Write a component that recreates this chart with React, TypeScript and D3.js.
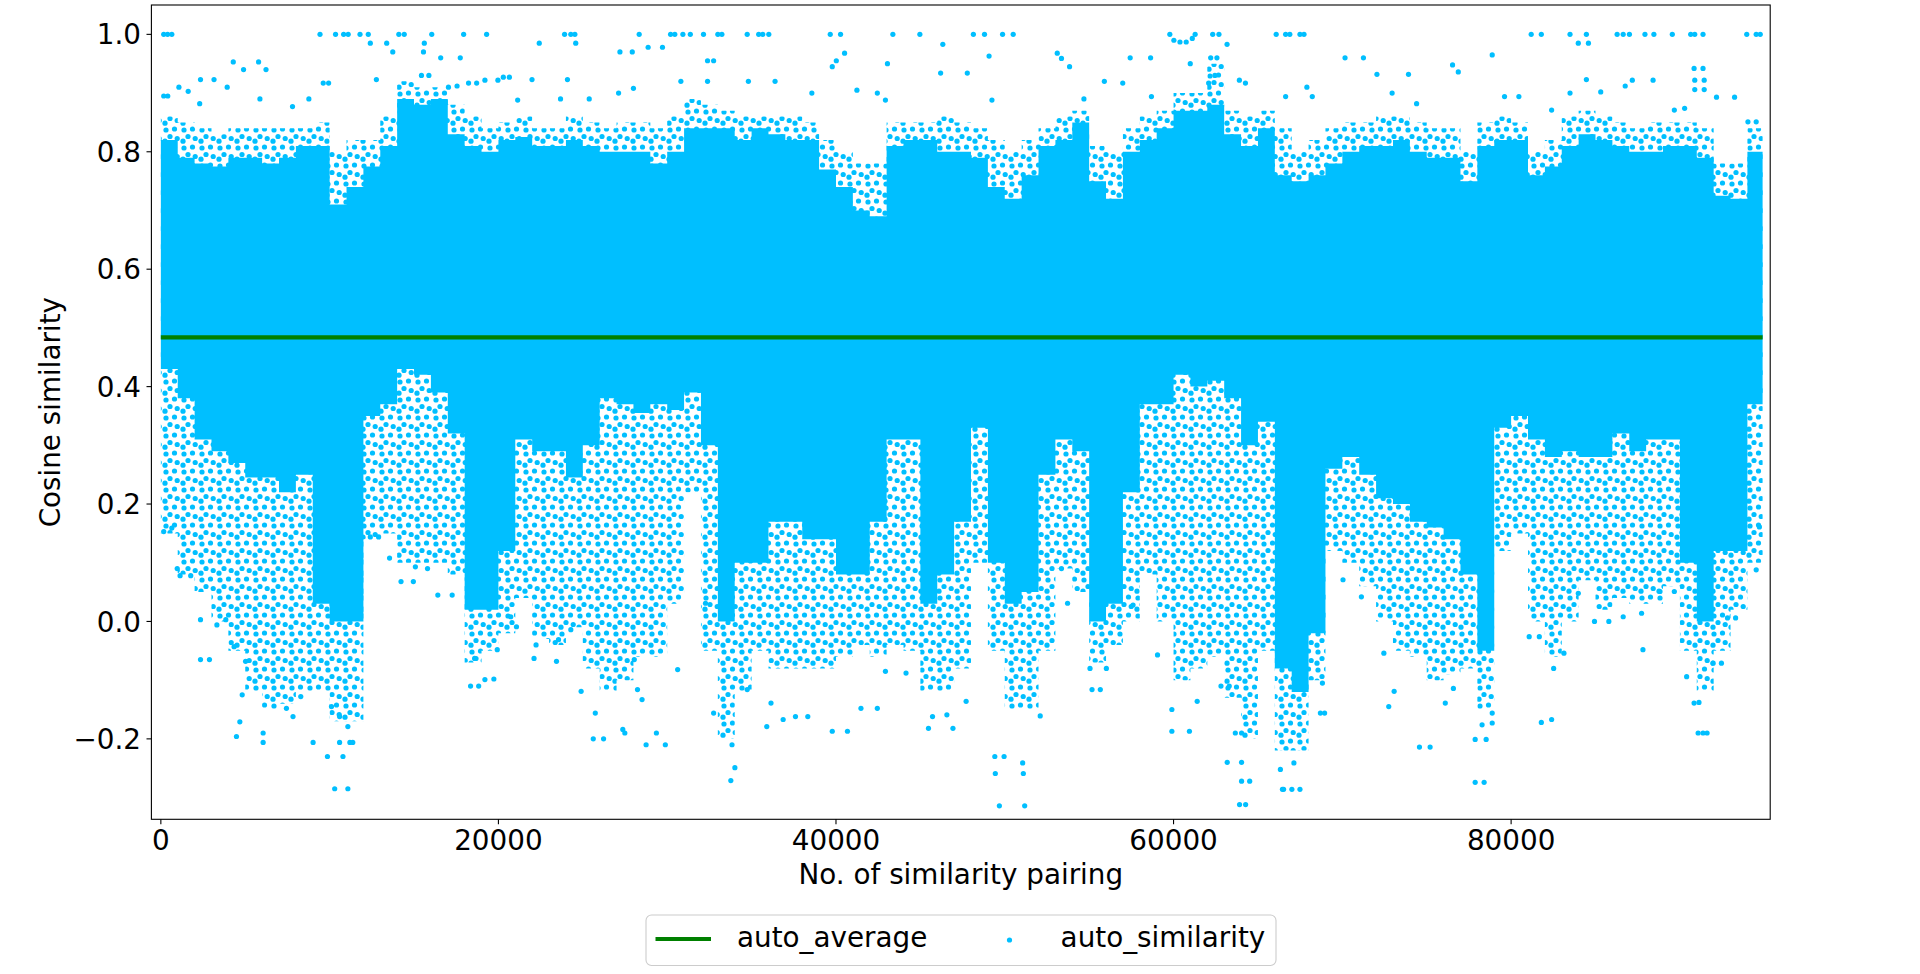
import React from 'react';
import * as d3 from 'd3';

// ---- data ----
const BIN_SIZE = 1000; // x-width of each envelope bin (pairing index)
const N_PAIRS = 94900;
const AVERAGE = 0.484;
const X_TICKS = [0, 20000, 40000, 60000, 80000];
const Y_TICKS = [-0.2, 0.0, 0.2, 0.4, 0.6, 0.8, 1.0];

// upper edge of the solid (fully covered) band of points per bin
const coreHigh = [
  0.82, 0.79, 0.78, 0.775, 0.79, 0.79, 0.78, 0.79, 0.81, 0.81,
  0.71, 0.74, 0.775, 0.81, 0.89, 0.88, 0.89, 0.83, 0.81, 0.8,
  0.82, 0.825, 0.81, 0.81, 0.82, 0.81, 0.8, 0.8, 0.8, 0.78,
  0.8, 0.84, 0.84, 0.84, 0.82, 0.84, 0.83, 0.82, 0.82, 0.77,
  0.74, 0.7, 0.69, 0.81, 0.82, 0.82, 0.8, 0.8, 0.79, 0.74,
  0.72, 0.76, 0.81, 0.82, 0.85, 0.75, 0.72, 0.8, 0.82, 0.84,
  0.87, 0.87, 0.88, 0.83, 0.81, 0.84, 0.76, 0.75, 0.76, 0.78,
  0.8, 0.81, 0.81, 0.82, 0.8, 0.79, 0.79, 0.75, 0.81, 0.82,
  0.82, 0.76, 0.775, 0.81, 0.83, 0.82, 0.81, 0.8, 0.8, 0.81,
  0.81, 0.79, 0.725, 0.72, 0.8,
];
// lower edge of the solid band per bin
const coreLow = [
  0.43, 0.38, 0.31, 0.29, 0.27, 0.245, 0.245, 0.22, 0.25, 0.03,
  0.0, 0.0, 0.35, 0.37, 0.43, 0.42, 0.39, 0.32, 0.02, 0.02,
  0.12, 0.31, 0.29, 0.29, 0.245, 0.3, 0.38, 0.37, 0.355, 0.37,
  0.36, 0.39, 0.3, 0.0, 0.1, 0.1, 0.17, 0.17, 0.14, 0.14,
  0.08, 0.08, 0.17, 0.31, 0.31, 0.03, 0.08, 0.17, 0.33, 0.1,
  0.03, 0.05, 0.25, 0.31, 0.29, 0.0, 0.03, 0.22, 0.37, 0.37,
  0.42, 0.4, 0.41, 0.38, 0.3, 0.34, -0.08, -0.12, -0.02, 0.26,
  0.28, 0.25, 0.21, 0.2, 0.17, 0.16, 0.14, 0.08, -0.05, 0.33,
  0.35, 0.31, 0.28, 0.29, 0.28, 0.28, 0.32, 0.29, 0.31, 0.31,
  0.1, 0.0, 0.12, 0.12, 0.37,
];
// upper edge of the scattered fringe above the solid band
const fringeHigh = [
  0.86, 0.85, 0.84, 0.83, 0.84, 0.84, 0.84, 0.84, 0.84, 0.85,
  0.8, 0.82, 0.82, 0.86, 0.92, 0.91, 0.91, 0.88, 0.86, 0.84,
  0.85, 0.86, 0.84, 0.84, 0.86, 0.85, 0.84, 0.85, 0.85, 0.84,
  0.86, 0.89, 0.88, 0.87, 0.86, 0.86, 0.86, 0.86, 0.85, 0.82,
  0.8, 0.78, 0.78, 0.85, 0.85, 0.85, 0.86, 0.85, 0.84, 0.82,
  0.8, 0.82, 0.84, 0.86, 0.87, 0.81, 0.8, 0.84, 0.86, 0.87,
  0.9, 0.9, 0.95, 0.87, 0.86, 0.87, 0.84, 0.8, 0.82, 0.84,
  0.85, 0.85, 0.86, 0.86, 0.85, 0.84, 0.84, 0.8, 0.85, 0.86,
  0.85, 0.8, 0.82, 0.86, 0.87, 0.86, 0.85, 0.84, 0.85, 0.85,
  0.85, 0.84, 0.78, 0.78, 0.84,
];
// lower edge of the scattered fringe below the solid band
const fringeLow = [
  0.15, 0.08, 0.05, 0.0, -0.05, -0.12, -0.15, -0.14, -0.12, -0.12,
  -0.17, -0.17, 0.14, 0.15, 0.1, 0.1, 0.1, 0.08, -0.07, -0.05,
  -0.02, 0.04, -0.03, -0.04, -0.01, -0.08, -0.12, -0.1, -0.06, -0.06,
  0.03, 0.22, -0.05, -0.2, -0.12, -0.05, -0.08, -0.08, -0.08, -0.08,
  -0.06, -0.04, -0.06, -0.04, -0.05, -0.12, -0.12, -0.08, 0.1, -0.05,
  -0.15, -0.15, -0.05, 0.09, 0.05, -0.07, -0.04, 0.0, 0.08, 0.0,
  -0.1, -0.08, -0.06, -0.13, -0.2, -0.05, -0.22, -0.22, -0.1, 0.12,
  0.1, 0.06, 0.0, -0.05, -0.06, -0.1, -0.09, -0.08, -0.15, 0.12,
  0.15, 0.0, -0.06, 0.0, 0.07, 0.02, 0.04, 0.03, 0.03, 0.06,
  -0.05, -0.12, -0.05, 0.02, 0.1,
];

// isolated points far outside the bands: [pairing index, cosine similarity]
const outliersTop: [number, number][] = [
  [170, 1], [400, 1], [650, 1], [9430, 1], [10350, 1], [10830, 1], [11100, 1], [11800, 1], [12290, 1],
  [14100, 1], [14420, 1], [16050, 1], [17940, 1], [19300, 1], [23920, 1], [24290, 1], [24530, 1], [28340, 1],
  [30200, 1], [30450, 1], [30930, 1], [31370, 1], [32150, 1], [33000, 1], [33240, 1], [34740, 1], [35420, 1],
  [35660, 1], [36020, 1], [39660, 1], [40270, 1], [43370, 1], [44970, 1], [48140, 1], [48800, 1], [49870, 1],
  [50500, 1], [59780, 1], [60020, 0.99], [60380, 0.987], [60750, 0.987], [61110, 0.993], [61280, 1], [62320, 1],
  [62690, 1], [66080, 1], [66640, 1], [66890, 1], [67490, 1], [67730, 1], [81190, 1], [81790, 1], [83490, 1],
  [84460, 1], [86280, 1], [86640, 1], [87010, 1], [87930, 1], [88460, 1], [89550, 1], [90640, 1], [90880, 1],
  [91370, 1], [93960, 1], [94520, 1], [94760, 1],
  [12410, 0.985], [13380, 0.985], [13740, 0.97], [15560, 0.97], [15610, 0.985], [16580, 0.96], [17740, 0.96],
  [22420, 0.985], [24580, 0.985], [27200, 0.97], [27930, 0.97], [4290, 0.953], [5790, 0.953], [4900, 0.94],
  [6230, 0.94], [170, 0.895], [410, 0.895], [1070, 0.91], [1620, 0.903], [2350, 0.923], [3150, 0.923],
  [3930, 0.91], [2300, 0.882], [5870, 0.89], [7800, 0.877], [8770, 0.89], [9620, 0.917], [9940, 0.917],
  [12770, 0.923], [15440, 0.93], [15880, 0.93], [17040, 0.91], [17550, 0.912], [18230, 0.917], [18710, 0.917],
  [19200, 0.922], [19970, 0.922], [20290, 0.927], [20650, 0.927], [21140, 0.888], [21990, 0.923], [24090, 0.923],
  [23680, 0.89], [25380, 0.89], [27120, 0.9], [28000, 0.908],
  [28870, 0.978], [29720, 0.978], [32390, 0.955], [32750, 0.955], [46330, 0.983], [46200, 0.934], [47780, 0.934],
  [49070, 0.963], [53110, 0.968], [53360, 0.959], [53840, 0.945], [57430, 0.96], [58640, 0.96], [60990, 0.95],
  [62200, 0.96], [62570, 0.96], [62080, 0.917], [62450, 0.93], [63170, 0.983], [63900, 0.922], [64260, 0.917],
  [40020, 0.955], [39780, 0.945], [40510, 0.968], [30810, 0.92], [32390, 0.92], [34810, 0.92], [36390, 0.92],
  [38570, 0.9], [41240, 0.905], [42450, 0.9], [42930, 0.888], [43050, 0.95], [49240, 0.888], [54690, 0.89],
  [55900, 0.92], [56990, 0.917], [58690, 0.894],
  [83980, 0.985], [84580, 0.985], [70160, 0.96], [71250, 0.96], [72050, 0.932], [73920, 0.932], [76530, 0.948],
  [76870, 0.936], [78880, 0.965], [84460, 0.923], [87180, 0.922], [88410, 0.922], [90840, 0.942], [91370, 0.942],
  [90880, 0.922], [91440, 0.922], [90880, 0.906], [91440, 0.906], [67900, 0.91], [68220, 0.894], [66640, 0.894],
  [92170, 0.893], [93240, 0.893], [94030, 0.851], [94520, 0.851], [72950, 0.9], [74400, 0.882], [79610, 0.894],
  [80460, 0.894], [82400, 0.871], [83490, 0.9], [85310, 0.902], [86760, 0.912], [89670, 0.871], [90280, 0.874],
];
const outliersBottom: [number, number][] = [
  [170, 0.153], [650, 0.159], [970, 0.09], [1770, 0.078], [1140, 0.078], [2350, 0.003], [2350, -0.065],
  [2880, -0.065], [3320, -0.006], [3850, 0.003], [4340, -0.043], [4480, -0.196], [4680, -0.171], [4820, -0.125],
  [5020, -0.068], [6060, -0.206], [6060, -0.19], [7440, -0.148], [7830, -0.162], [8290, -0.128], [9020, -0.206],
  [9870, -0.23], [10300, -0.285], [11080, -0.285], [10790, -0.23], [11200, -0.206], [11370, -0.206],
  [11080, -0.179], [10590, -0.206], [10590, -0.162], [10110, -0.145], [12410, 0.144], [12900, 0.144],
  [13550, 0.108], [14230, 0.068], [14960, 0.068], [15080, 0.093], [15800, 0.09], [16410, 0.045], [17260, 0.045],
  [18350, -0.11], [18830, -0.11], [19200, -0.099], [19730, -0.098], [18590, -0.063], [19930, -0.048],
  [21070, -0.009], [20730, 0.008], [22110, -0.063], [22230, -0.04], [23440, -0.068], [23560, -0.031],
  [24290, -0.014], [24900, -0.119], [25620, -0.2], [26230, -0.2], [25740, -0.156], [27490, -0.19],
  [27370, -0.184], [28240, -0.116], [28050, -0.065],
  [28510, -0.133], [28750, -0.21], [29360, -0.19], [29890, -0.21], [30620, -0.082], [32270, 0.031],
  [32750, -0.156], [33770, -0.271], [34010, -0.249], [33840, -0.21], [34740, -0.116], [35900, -0.179],
  [36150, -0.139], [36870, -0.167], [37600, -0.162], [38330, -0.162], [39780, -0.187], [40680, -0.187],
  [41480, -0.148], [42450, -0.148], [42930, -0.085], [44150, -0.088], [45480, -0.182], [45720, -0.162],
  [46570, -0.159], [46930, -0.182], [47710, -0.136], [49680, -0.314], [49410, -0.23], [49960, -0.23],
  [49440, -0.259], [51180, -0.314], [51100, -0.259], [51060, -0.241], [52100, -0.161], [53360, 0.09],
  [53720, 0.031], [55050, -0.08], [55170, -0.116], [55660, -0.116], [56020, -0.08], [57600, 0.028],
  [59050, -0.057], [59900, -0.187], [60940, -0.187], [59900, -0.15], [61400, -0.136], [62810, -0.11],
  [63300, -0.11], [63180, -0.24], [64030, -0.24], [63660, -0.19], [64030, -0.19], [63910, -0.312],
  [64270, -0.312], [64030, -0.272], [64510, -0.272], [66450, -0.286], [66330, -0.252],
  [66520, -0.286], [67010, -0.286], [67490, -0.286], [67130, -0.241], [68700, -0.156], [68950, -0.156],
  [68820, -0.105], [70040, 0.071], [71130, 0.042], [72460, -0.054], [72750, -0.145], [73070, -0.119],
  [74570, -0.214], [75200, -0.214], [76100, -0.139], [76580, -0.114], [77870, -0.274], [78400, -0.274],
  [77870, -0.201], [78520, -0.201], [78280, -0.176], [78880, -0.173], [78880, -0.156], [81070, -0.026],
  [81670, -0.026], [81790, -0.172], [82400, -0.167], [82520, -0.08], [83130, -0.054], [83980, 0.048],
  [84940, 0.0], [85790, 0.0], [86640, 0.008], [87730, 0.014], [87810, -0.048], [88820, 0.051], [89670, 0.051],
  [90400, -0.094], [90840, -0.139], [91130, -0.138], [91080, -0.19], [91370, -0.19], [91610, -0.19],
  [91970, -0.071], [92460, -0.071], [92820, 0.006], [93300, 0.006], [94520, 0.088], [94710, 0.161],
];

// ---- layout ----
const W = 1920;
const H = 974;
const PLOT = { left: 151.4, right: 1770.2, top: 5, bottom: 819.3 };
const FONT = '"DejaVu Sans", "Liberation Sans", sans-serif';
const FS = 27.8;
const DOT = '#00bfff';
const LINE = '#008000';
const R = 2.6;
// dot texture used to paint the sparse fringe (tile-local coordinates, purely decorative)
const TEXTURE_TILE = 18;
const TEXTURE_DOTS: [number, number][] = [
  [4, 4], [12.5, 3], [8, 10.5], [15.2, 12.5], [3, 15.2],
];

type Bin = { x: number; hi: number; lo: number; fh: number; fl: number };

export default function App() {
  const x = d3.scaleLinear().domain([-560, 95350]).range([PLOT.left, PLOT.right]);
  const y = d3.scaleLinear().domain([-0.337, 1.05]).range([PLOT.bottom, PLOT.top]);

  const bins: Bin[] = coreHigh.map((hi, i) => ({
    x: i * BIN_SIZE,
    hi,
    lo: coreLow[i],
    fh: fringeHigh[i],
    fl: fringeLow[i],
  }));
  bins.push({ ...bins[bins.length - 1], x: N_PAIRS });

  const coreArea = d3
    .area<Bin>()
    .x((d) => x(d.x))
    .y0((d) => y(d.lo))
    .y1((d) => y(d.hi))
    .curve(d3.curveStepAfter);
  const fringeArea = d3
    .area<Bin>()
    .x((d) => x(d.x))
    .y0((d) => y(d.fl))
    .y1((d) => y(d.fh))
    .curve(d3.curveStepAfter);

  const tickLen = 4.9;
  const outliers = outliersTop.concat(outliersBottom);

  return (
    <svg
      width={W}
      height={H}
      viewBox={`0 0 ${W} ${H}`}
      style={{ position: 'absolute', left: 0, top: 0, background: '#fff' }}
      fontFamily={FONT}
    >
      <rect x={0} y={0} width={W} height={H} fill="#fff" />
      <defs>
        <clipPath id="plotclip">
          <rect x={PLOT.left} y={PLOT.top} width={PLOT.right - PLOT.left} height={PLOT.bottom - PLOT.top} />
        </clipPath>
        <pattern id="sparse" patternUnits="userSpaceOnUse" width={TEXTURE_TILE} height={TEXTURE_TILE}>
          {TEXTURE_DOTS.map(([cx, cy], i) => (
            <circle key={i} cx={cx} cy={cy} r={R} fill={DOT} />
          ))}
        </pattern>
      </defs>

      <g clipPath="url(#plotclip)">
        <path d={fringeArea(bins) || ''} fill="url(#sparse)" />
        <path d={coreArea(bins) || ''} fill={DOT} />
        {outliers.map(([px, py], i) => (
          <circle key={i} cx={x(px)} cy={y(py)} r={R} fill={DOT} />
        ))}
        <line x1={x(0)} x2={x(N_PAIRS)} y1={y(AVERAGE)} y2={y(AVERAGE)} stroke={LINE} strokeWidth={4.17} />
      </g>

      {/* frame */}
      <rect
        x={PLOT.left}
        y={PLOT.top}
        width={PLOT.right - PLOT.left}
        height={PLOT.bottom - PLOT.top}
        fill="none"
        stroke="#000"
        strokeWidth={1.1}
      />

      {/* x ticks */}
      {X_TICKS.map((t) => (
        <g key={t}>
          <line x1={x(t)} x2={x(t)} y1={PLOT.bottom} y2={PLOT.bottom + tickLen} stroke="#000" strokeWidth={1.1} />
          <text x={x(t)} y={850} fontSize={FS} textAnchor="middle" fill="#000">
            {String(t)}
          </text>
        </g>
      ))}

      {/* y ticks */}
      {Y_TICKS.map((t) => (
        <g key={t}>
          <line x1={PLOT.left - tickLen} x2={PLOT.left} y1={y(t)} y2={y(t)} stroke="#000" strokeWidth={1.1} />
          <text x={141} y={y(t) + 10.1} fontSize={FS} textAnchor="end" fill="#000">
            {d3.format('.1f')(t).replace('-', '\u2212')}
          </text>
        </g>
      ))}

      {/* axis labels */}
      <text x={(PLOT.left + PLOT.right) / 2} y={884} fontSize={FS} textAnchor="middle" fill="#000">
        No. of similarity pairing
      </text>
      <text
        transform={`translate(60, ${(PLOT.top + PLOT.bottom) / 2}) rotate(-90)`}
        fontSize={FS}
        textAnchor="middle"
        fill="#000"
      >
        Cosine similarity
      </text>

      {/* legend */}
      <g>
        <rect x={646} y={915} width={630} height={50.5} rx={5.5} fill="#fff" fillOpacity={0.8} stroke="#cccccc" strokeWidth={1.1} />
        <line x1={655.5} x2={711} y1={939} y2={939} stroke={LINE} strokeWidth={4.17} />
        <text x={737} y={947} fontSize={FS} fill="#000">auto_average</text>
        <circle cx={1009.5} cy={940} r={R} fill={DOT} />
        <text x={1060.6} y={947} fontSize={FS} fill="#000">auto_similarity</text>
      </g>
    </svg>
  );
}
